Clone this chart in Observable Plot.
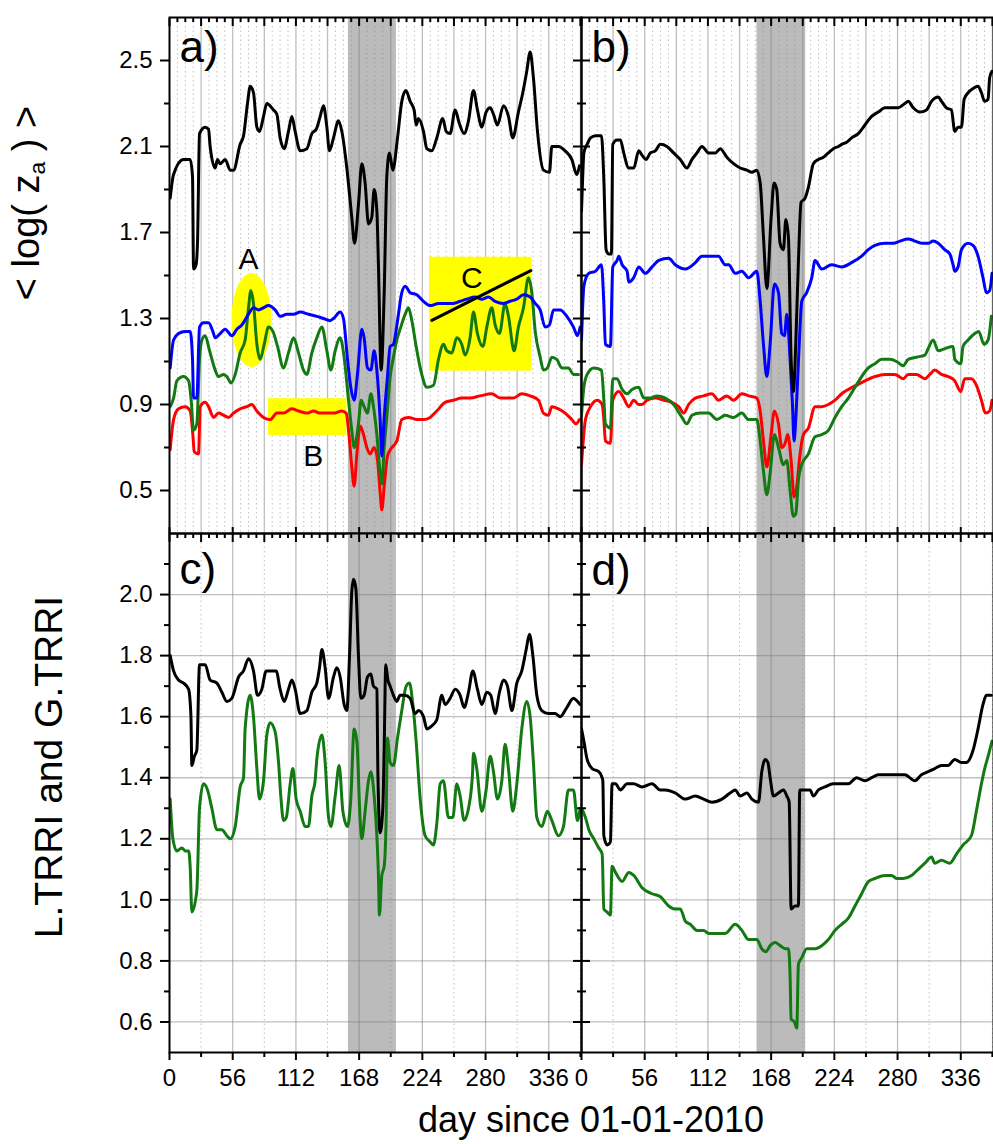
<!DOCTYPE html>
<html><head><meta charset="utf-8">
<script src="https://cdn.jsdelivr.net/npm/d3@7"></script>
<script src="https://cdn.jsdelivr.net/npm/@observablehq/plot@0.6"></script>
<style>
body{margin:0;background:#fff;font-family:"Liberation Sans",Arial,sans-serif;}
#wrap{position:relative;width:993px;height:1144px;overflow:hidden;background:#fff;}
.panel{position:absolute;}
.title{position:absolute;white-space:nowrap;color:#000;font-family:"Liberation Sans",Arial,sans-serif;}
</style></head><body><div id="wrap"></div>
<script>
// ---------------- axes / ticks ----------------
const X_DOMAIN = [0, 365];
const Y_TOP = [0.3, 2.7];
const Y_BOT = [0.5, 2.2];
const yTopMajor = [0.5, 0.9, 1.3, 1.7, 2.1, 2.5];
const yTopMinor = [0.7, 1.1, 1.5, 1.9, 2.3];
const yBotMajor = [0.6, 0.8, 1.0, 1.2, 1.4, 1.6, 1.8, 2.0];
const yBotMinor = [0.7, 0.9, 1.1, 1.3, 1.5, 1.7, 1.9, 2.1];
const xLabelTicks = [0, 56, 112, 168, 224, 280, 336];
const xHalfTicks = [28, 84, 140, 196, 252, 308, 364];
const xTopMajor = [0, 28, 56, 84, 112, 140, 168, 196, 224, 252, 280, 308, 336, 364];
const xTopMinor = d3.range(7, 365, 7).filter(d => d % 28 !== 0);
const bandAC = [158.5, 201];
const bandBD = [155.5, 198.6];
const panelLabels = ["a)", "b)", "c)", "d)"];

// ---------------- annotations (panel a) ----------------
const annoEllipse = [{day0: 55.3, day1: 90.7, v0: 1.072, v1: 1.509}];
const annoRects = [{day0: 87.8, day1: 157.2, v0: 0.756, v1: 0.927}, {day0: 230.3, day1: 321, v0: 1.055, v1: 1.585}];
const annoLine = [[232.4, 1.291], [320.1, 1.523]];
const annoText = [{t: "A", day: 70, v: 1.574}, {t: "B", day: 127.3, v: 0.659}, {t: "C", day: 267.8, v: 1.488}];

// ---------------- series: [day, value] ----------------
const aBlack = [[0.6,1.86],[3.6,1.97],[12.4,2.04],[18.3,2.04],[20.4,1.96],[21.3,1.53],[23.5,1.55],[24.8,1.65],[26.6,2.16],[31.6,2.19],[34.6,2.18],[36,2.1],[40.5,2.0],[42.5,2.04],[44.9,2.02],[49.3,2.04],[53.8,1.99],[56.7,1.99],[62.6,2.11],[65.6,2.15],[69.1,2.30],[71.5,2.38],[74.4,2.35],[77.4,2.19],[79.7,2.17],[83.3,2.24],[86.2,2.30],[92.1,2.27],[95.1,2.25],[98,2.14],[101.6,2.09],[105.4,2.17],[108.4,2.24],[111.3,2.17],[115.8,2.08],[121.7,2.09],[126.1,2.16],[130,2.18],[133.5,2.24],[136.4,2.29],[139.4,2.19],[141.7,2.08],[145.3,2.14],[149.7,2.22],[152.7,2.17],[157.1,2.0],[161.5,1.77],[163.9,1.65],[167.4,1.83],[170.4,2.02],[173.3,1.93],[176.3,1.74],[179.2,1.77],[181.3,1.90],[183.7,1.80],[185.1,1.55],[187.5,1.06],[190.2,1.42],[192.5,1.96],[194.9,2.07],[197.8,1.99],[202,2.14],[205.8,2.31],[209.4,2.36],[213.2,2.31],[216.7,2.27],[218.5,2.20],[220.6,2.23],[225,2.17],[228,2.09],[232.4,2.08],[236.8,2.14],[242.1,2.23],[245.1,2.17],[248.6,2.16],[253.1,2.27],[256.6,2.21],[261,2.16],[264.9,2.22],[269.3,2.36],[272.8,2.27],[276.7,2.19],[280.5,2.26],[284.1,2.28],[287,2.25],[290.5,2.20],[295.9,2.29],[300.3,2.24],[304.1,2.14],[309.1,2.26],[313,2.35],[316.5,2.45],[319.5,2.54],[322.4,2.42],[326,2.17],[331.3,1.99],[336.6,1.98],[338.7,2.10],[344.6,2.10],[350.5,2.08],[356.4,2.04],[360.8,1.97],[363.2,2.01]];
const aBlue = [[0.6,1.07],[3.6,1.20],[8,1.23],[13.9,1.24],[18.3,1.24],[20.4,1.11],[21.3,0.93],[24.2,0.93],[26.6,1.26],[30.1,1.28],[34.6,1.28],[38.4,1.24],[40.5,1.21],[44.9,1.23],[49.3,1.25],[55.2,1.22],[59.7,1.25],[64.1,1.27],[70,1.32],[74.4,1.35],[78.9,1.34],[83.3,1.35],[87.7,1.36],[93.6,1.34],[98,1.31],[104,1.32],[109.9,1.32],[115.8,1.33],[123.1,1.32],[130.5,1.31],[136.4,1.30],[142.3,1.29],[145.3,1.30],[151.2,1.33],[154.1,1.30],[157.7,1.11],[160.6,0.98],[163.6,0.92],[166.5,1.04],[170.4,1.25],[172.4,1.21],[175.4,1.07],[178.4,1.06],[181.3,1.15],[183.7,1.06],[186.6,0.83],[188.1,0.66],[190.2,0.84],[193.1,1.03],[195.5,1.17],[198.4,1.18],[202,1.29],[205.8,1.42],[208.8,1.45],[213.2,1.42],[219.1,1.41],[225,1.38],[230.9,1.36],[238.3,1.37],[245.7,1.37],[251.6,1.37],[257.5,1.38],[263.4,1.39],[270.8,1.40],[276.7,1.39],[282.6,1.40],[288.5,1.38],[295.9,1.37],[301.8,1.38],[307.7,1.39],[313.6,1.41],[319.5,1.40],[324,1.37],[328.4,1.34],[332.8,1.26],[336.6,1.27],[340.2,1.34],[346.1,1.34],[352,1.31],[357.9,1.26],[361.4,1.22],[363.8,1.26]];
const aGreen = [[0.6,0.89],[3.6,0.93],[6.5,1.01],[12.4,1.03],[16.9,1.01],[19.2,0.92],[21.3,0.78],[24.2,0.81],[26.6,1.11],[28.7,1.20],[31.6,1.22],[35.5,1.15],[40.5,1.06],[43.4,1.03],[47.9,1.04],[50.8,1.03],[54.6,1.00],[58.2,1.04],[62.6,1.14],[67,1.20],[70,1.35],[72.1,1.43],[74.4,1.37],[77.4,1.18],[80.3,1.11],[83.9,1.18],[87.7,1.26],[91.6,1.24],[95.7,1.17],[101,1.07],[105.4,1.14],[109.9,1.21],[114.3,1.14],[118.7,1.06],[121.7,1.04],[126.1,1.14],[130.5,1.21],[135,1.26],[139.4,1.15],[142.9,1.06],[146.8,1.15],[151.2,1.21],[154.7,1.12],[158.6,0.92],[161.5,0.78],[163.6,0.70],[167.4,0.81],[169.8,0.92],[172.4,0.89],[175.4,0.86],[178.4,0.95],[180.7,0.89],[183.7,0.76],[186.6,0.58],[188.1,0.53],[190.2,0.70],[192.5,0.84],[195.5,1.03],[198.4,1.12],[201.4,1.20],[204.9,1.26],[208.8,1.32],[211.7,1.35],[214.7,1.29],[218.5,1.17],[223.5,1.04],[228,0.98],[233.9,0.99],[238.3,1.11],[242.7,1.18],[245.7,1.15],[250.1,1.14],[254.5,1.21],[258.9,1.18],[261.9,1.13],[266.3,1.21],[269.3,1.33],[272.8,1.23],[277.6,1.17],[281.1,1.26],[285.5,1.35],[288.5,1.27],[292.3,1.23],[297.3,1.37],[300.3,1.31],[305.3,1.15],[309.1,1.26],[313.6,1.35],[318,1.49],[321,1.42],[324,1.24],[328.4,1.12],[331.3,1.06],[334.8,1.07],[338.7,1.12],[343.1,1.11],[347.5,1.07],[353.4,1.07],[357.9,1.04],[362.3,1.04]];
const aRed = [[0.6,0.69],[3.6,0.83],[8,0.88],[13.9,0.89],[18.3,0.87],[20.7,0.76],[21.9,0.68],[25.7,0.67],[27.2,0.89],[31.6,0.91],[34.6,0.89],[39,0.84],[43.4,0.86],[47.9,0.85],[52.3,0.84],[56.7,0.86],[62.6,0.88],[68.5,0.89],[72.9,0.90],[77.4,0.87],[83.3,0.84],[89.2,0.83],[95.1,0.86],[101,0.86],[108.4,0.88],[114.3,0.87],[121.7,0.86],[127.6,0.87],[133.5,0.86],[139.4,0.86],[145.3,0.86],[152.7,0.87],[156.5,0.86],[159.5,0.73],[161.5,0.61],[163.6,0.52],[166,0.67],[168.9,0.80],[171.9,0.76],[174.8,0.70],[177.8,0.67],[181.3,0.70],[184.3,0.64],[186.6,0.49],[188.1,0.41],[190.2,0.52],[193.1,0.66],[197,0.70],[201.4,0.73],[205.8,0.83],[211.7,0.84],[219.1,0.83],[225,0.83],[230.9,0.84],[236.8,0.87],[244.2,0.91],[251.6,0.92],[259,0.93],[266.4,0.93],[275.2,0.94],[285.5,0.95],[293,0.93],[298.8,0.93],[304.7,0.93],[312.1,0.95],[319.5,0.94],[326.9,0.92],[331.3,0.86],[335.7,0.85],[338.7,0.89],[344.6,0.88],[350.5,0.86],[356.4,0.83],[360.2,0.81],[363.2,0.83]];

const bBlack = [[0,1.80],[1,1.95],[2.1,2.07],[5,2.11],[8,2.14],[12.4,2.15],[17.7,2.15],[19.7,1.96],[21.8,1.62],[24.2,1.60],[26.5,1.60],[27.7,2.11],[31.5,2.13],[34.5,2.13],[37.4,2.07],[41.9,2.00],[46.3,2.00],[50.7,2.08],[53.6,2.06],[57.2,2.04],[61,2.07],[65.4,2.08],[69.9,2.11],[75.7,2.10],[81.6,2.07],[87.5,2.04],[93.4,2.00],[97.9,2.04],[102.3,2.07],[106.7,2.10],[112.6,2.07],[118.5,2.07],[122.9,2.09],[128.8,2.05],[134.7,2.02],[140.6,2.00],[146.5,1.99],[150.9,1.98],[155.3,1.99],[158.3,1.93],[161.2,1.68],[164.2,1.44],[168,1.77],[170.6,1.93],[173,1.90],[175.9,1.65],[178.9,1.62],[181,1.76],[183.3,1.68],[185.7,1.11],[187.7,0.96],[189.8,1.18],[192.2,1.57],[194.5,1.84],[198.1,1.86],[201,1.91],[205.4,2.02],[209.9,2.04],[214.3,2.05],[218.7,2.07],[223.1,2.09],[227.5,2.10],[230.5,2.11],[234.9,2.12],[239.3,2.14],[245.2,2.16],[251.1,2.20],[257,2.24],[262.9,2.26],[268.8,2.28],[274.7,2.28],[280.6,2.28],[286.5,2.30],[289.4,2.31],[293.9,2.28],[299.8,2.26],[305.6,2.27],[310.1,2.31],[316,2.33],[319,2.31],[323.3,2.28],[327.7,2.27],[330.7,2.17],[333.6,2.19],[336.6,2.19],[339,2.32],[342.5,2.35],[346.9,2.37],[351.3,2.38],[354.3,2.35],[357.2,2.31],[360.2,2.32],[361.6,2.42],[363.7,2.45]];
const bBlue = [[0,1.20],[1,1.35],[2.1,1.45],[6.5,1.51],[12.4,1.52],[17.7,1.55],[19.7,1.38],[21.2,1.18],[25.6,1.17],[27.7,1.54],[31.5,1.57],[33,1.59],[36,1.55],[40.4,1.52],[41.9,1.47],[46.3,1.49],[50.7,1.54],[56.6,1.51],[62.5,1.54],[68.4,1.57],[77.2,1.58],[83.1,1.55],[92,1.53],[100.8,1.56],[106.7,1.59],[112.6,1.59],[121.4,1.59],[127.3,1.55],[130.3,1.55],[136.2,1.51],[142.1,1.52],[148,1.49],[155.3,1.52],[158.3,1.38],[161.2,1.18],[164.2,1.03],[167.1,1.18],[170.9,1.46],[174.5,1.42],[177.4,1.23],[179.8,1.22],[181.9,1.32],[184.8,1.11],[186.9,0.90],[188.3,0.73],[189.8,0.83],[191.6,1.03],[193.6,1.26],[195.1,1.38],[199.5,1.42],[204,1.49],[206.9,1.57],[212.8,1.53],[221.6,1.55],[230.5,1.54],[239.3,1.56],[248.2,1.59],[254.1,1.62],[260,1.64],[268.8,1.65],[276.2,1.65],[282.1,1.66],[289.4,1.67],[295.3,1.66],[301.2,1.65],[307.1,1.65],[311.5,1.66],[316,1.65],[321.8,1.62],[326.3,1.60],[329.2,1.55],[330.7,1.52],[333.6,1.54],[336.6,1.62],[342.5,1.65],[346.9,1.64],[351.3,1.59],[355.7,1.49],[358.7,1.42],[361.6,1.43],[363.7,1.51]];
const bGreen = [[0,0.85],[2.1,0.98],[5,1.04],[10.9,1.07],[17.7,1.06],[19.8,0.92],[21.2,0.81],[25.6,0.79],[27.7,1.02],[31.5,1.02],[36,0.97],[40.4,0.95],[44.8,0.97],[50.7,0.98],[55.1,0.93],[61,0.93],[66.9,0.94],[74.3,0.93],[81.6,0.90],[89,0.84],[93.4,0.81],[97.9,0.85],[105.2,0.86],[112.6,0.86],[120,0.83],[127.3,0.85],[134.7,0.84],[142.1,0.86],[148,0.83],[155.3,0.83],[158.3,0.73],[161.2,0.59],[164.2,0.48],[167.1,0.58],[170.9,0.76],[174.5,0.70],[178.9,0.62],[181.9,0.64],[184.8,0.50],[187.7,0.38],[189.8,0.39],[192.2,0.55],[195.1,0.62],[201,0.67],[206.9,0.75],[212.8,0.76],[218.7,0.78],[224.6,0.84],[230.5,0.89],[236.4,0.93],[242.3,0.98],[248.2,1.03],[254.1,1.07],[260,1.09],[265.9,1.11],[273.2,1.11],[279.1,1.10],[285,1.08],[289.4,1.11],[296.8,1.12],[304.2,1.13],[307.1,1.16],[311.5,1.20],[316,1.15],[321.8,1.16],[329.2,1.17],[330.7,1.11],[336,1.09],[338,1.17],[342.5,1.20],[348.4,1.23],[351.9,1.24],[356.6,1.18],[360.2,1.20],[363.1,1.31]];
const bRed = [[0,0.62],[3.5,0.83],[8,0.89],[13.9,0.92],[18.3,0.90],[19.8,0.83],[21.2,0.73],[25.6,0.72],[27.7,0.92],[33,0.96],[37.4,0.93],[41.9,0.89],[46.3,0.92],[50.7,0.90],[53.6,0.90],[58.1,0.92],[65.4,0.93],[72.8,0.92],[80.2,0.91],[86.1,0.89],[90.5,0.86],[94.9,0.90],[100.8,0.93],[108.2,0.94],[115.5,0.95],[121.4,0.92],[128.8,0.94],[134.7,0.92],[142.1,0.95],[148,0.94],[155.3,0.93],[158.3,0.87],[161.2,0.73],[164.2,0.61],[168,0.76],[170.9,0.87],[174.5,0.81],[177.4,0.70],[180.4,0.72],[182.7,0.76],[185.7,0.64],[188.3,0.47],[190.7,0.52],[193.6,0.67],[196.6,0.76],[201,0.79],[206.9,0.89],[212.8,0.89],[218.7,0.90],[224.6,0.92],[230.5,0.95],[236.4,0.97],[243.7,0.99],[251.1,1.01],[260,1.03],[268.8,1.04],[277.6,1.04],[285,1.02],[289.4,1.04],[296.8,1.04],[304.2,1.02],[308.6,1.04],[313,1.06],[318.9,1.04],[324.8,1.03],[330.7,1.01],[336,0.96],[339.5,1.02],[345.4,1.02],[349.8,0.99],[354.3,0.92],[357.8,0.86],[361.6,0.87],[363.7,0.92]];

const cBlack = [[0.6,1.80],[3.6,1.75],[8,1.72],[12.4,1.71],[16.9,1.69],[19,1.60],[19.8,1.44],[22,1.47],[24.2,1.49],[26.6,1.77],[31.6,1.77],[36,1.72],[42,1.71],[46.4,1.68],[50.8,1.65],[55.2,1.66],[61.2,1.73],[65.6,1.75],[70,1.79],[74.4,1.75],[78,1.67],[81.8,1.69],[85.7,1.75],[90.7,1.75],[94.5,1.75],[98,1.69],[101.6,1.65],[105.4,1.69],[108.4,1.72],[111.3,1.69],[115.8,1.61],[121.7,1.62],[126.1,1.68],[130.5,1.71],[132.9,1.76],[135,1.82],[137.9,1.76],[140.9,1.66],[145.3,1.73],[148.2,1.76],[151.2,1.73],[154.7,1.64],[157.1,1.62],[159.5,1.80],[161.5,2.01],[163,2.05],[165.1,2.02],[167.4,1.80],[169.5,1.66],[172.4,1.67],[175.4,1.73],[178.4,1.74],[180.7,1.70],[183.7,1.69],[184.6,1.42],[186.6,1.22],[189,1.30],[190.2,1.50],[191.6,1.77],[193.5,1.72],[195.5,1.70],[198.4,1.67],[201.4,1.65],[204.3,1.67],[208.8,1.67],[213.2,1.66],[217.6,1.61],[220.6,1.62],[225,1.60],[228,1.56],[232.4,1.57],[236.8,1.59],[241.2,1.67],[244.2,1.64],[248.6,1.66],[253.1,1.69],[257.5,1.67],[261,1.63],[264.9,1.68],[268.7,1.75],[272.8,1.69],[276.7,1.64],[281.1,1.68],[284.6,1.67],[288.5,1.61],[292.3,1.68],[295.9,1.72],[299.4,1.70],[303.3,1.62],[307.7,1.71],[312.1,1.75],[316,1.82],[318.9,1.87],[321.9,1.80],[325.4,1.67],[329.8,1.62],[335.7,1.61],[341.6,1.61],[346.1,1.60],[352,1.63],[357.9,1.66],[361.4,1.65],[363.8,1.64]];
const cGreen = [[0.6,1.33],[3,1.20],[6.5,1.16],[11,1.17],[13.9,1.16],[16.9,1.16],[18.3,1.11],[19.8,0.96],[24.2,1.03],[26.6,1.30],[30.1,1.38],[33.7,1.36],[37.5,1.30],[42,1.23],[46.4,1.23],[50.8,1.21],[53.8,1.20],[58.2,1.24],[62.6,1.37],[65.6,1.40],[67,1.56],[71.5,1.67],[74.4,1.60],[77.4,1.43],[79.7,1.33],[83.3,1.39],[86.2,1.54],[89.2,1.58],[93.6,1.55],[96.6,1.45],[98.6,1.34],[101,1.26],[103.5,1.27],[106.9,1.38],[109.3,1.43],[112.2,1.33],[115.8,1.29],[120.2,1.24],[123.1,1.24],[126.1,1.34],[129,1.39],[130.5,1.46],[135,1.54],[137.9,1.45],[140.9,1.27],[143,1.24],[146.8,1.34],[150.3,1.44],[153.6,1.29],[157.7,1.24],[160.6,1.33],[163.6,1.56],[166,1.52],[168.9,1.26],[170.4,1.20],[173.3,1.29],[176.3,1.39],[178.4,1.42],[181.3,1.34],[183.7,1.21],[185.1,1.08],[186,0.95],[188.1,1.08],[190.2,1.11],[191.9,1.26],[193.1,1.53],[195.5,1.45],[198.4,1.44],[202,1.53],[205.8,1.62],[209.7,1.70],[212.6,1.71],[215.6,1.64],[218.5,1.52],[222.1,1.33],[226.5,1.21],[230.9,1.19],[233.9,1.18],[236.8,1.25],[239.8,1.38],[242.7,1.39],[247.1,1.27],[251,1.27],[254.5,1.38],[257.5,1.34],[261,1.26],[264.9,1.30],[268.4,1.41],[269.3,1.48],[272.2,1.43],[276.7,1.29],[280.5,1.36],[284.1,1.47],[287,1.42],[290.5,1.33],[294.4,1.39],[297.3,1.51],[300.3,1.43],[304.1,1.29],[307.7,1.38],[312.1,1.56],[316.5,1.65],[319.5,1.60],[322.4,1.45],[325.4,1.27],[329.8,1.24],[334.8,1.29],[338.7,1.26],[344.6,1.21],[349,1.24],[353.4,1.36],[357.9,1.36],[361.4,1.26],[363.8,1.30]];

const dBlack = [[0,1.56],[2.1,1.52],[5,1.46],[9.4,1.43],[15.3,1.42],[18.3,1.40],[18.9,1.39],[19.8,1.21],[22.7,1.18],[25.6,1.19],[27.1,1.38],[30.1,1.38],[34.5,1.36],[40.4,1.38],[46.3,1.38],[53.6,1.37],[62.5,1.38],[69.9,1.36],[74.3,1.36],[83.1,1.35],[92,1.33],[100.8,1.34],[108.2,1.33],[115.5,1.32],[124.4,1.33],[131.7,1.35],[136.2,1.36],[140.6,1.34],[146.5,1.35],[150.9,1.33],[156.8,1.32],[159.7,1.42],[162.7,1.46],[165.1,1.45],[167.1,1.40],[170.1,1.34],[174.5,1.35],[178.9,1.36],[181.9,1.34],[184,1.32],[185.7,0.97],[189.2,0.98],[192.2,0.98],[193.3,1.36],[198.1,1.36],[202.5,1.36],[205.4,1.34],[209.9,1.36],[215.7,1.37],[223.1,1.38],[230.5,1.38],[236.4,1.38],[243.7,1.40],[251.1,1.39],[257,1.40],[262.9,1.41],[271.7,1.41],[279.1,1.41],[286.5,1.41],[295.3,1.39],[301.2,1.41],[307.1,1.42],[313,1.43],[318.9,1.44],[324.8,1.44],[330.7,1.46],[336.6,1.45],[341,1.45],[346.9,1.49],[351.3,1.56],[355.7,1.64],[358.7,1.67],[363.1,1.67]];
const dGreen = [[0,1.30],[3.5,1.27],[6.5,1.23],[10.9,1.20],[15.3,1.17],[18.3,1.15],[19.8,0.97],[22.7,0.96],[25.6,0.95],[27.1,1.11],[30.1,1.09],[36,1.06],[41.9,1.09],[46.3,1.08],[53.6,1.04],[62.5,1.02],[69.9,1.01],[77.2,0.98],[83.1,0.97],[87.5,0.97],[92,0.93],[96.4,0.92],[102.3,0.90],[108.2,0.90],[112.6,0.89],[120,0.89],[127.3,0.89],[136.2,0.92],[142.1,0.90],[148,0.87],[155.3,0.87],[159.7,0.84],[163.3,0.83],[167.1,0.85],[171.5,0.86],[176,0.85],[180.4,0.84],[183.3,0.84],[184.8,0.75],[185.7,0.61],[188.6,0.60],[190.7,0.58],[192.2,0.79],[195.1,0.81],[199.5,0.84],[206.9,0.84],[212.8,0.85],[218.7,0.87],[224.6,0.90],[230.5,0.92],[236.4,0.94],[242.3,0.98],[248.2,1.02],[254.1,1.06],[260,1.07],[268.8,1.08],[274.7,1.08],[279.1,1.07],[285,1.07],[292.4,1.08],[298.3,1.10],[304.2,1.12],[310.1,1.14],[313,1.12],[318.9,1.13],[326.3,1.12],[332.2,1.15],[338.1,1.18],[345.4,1.21],[349.8,1.29],[354.3,1.38],[357.2,1.43],[360.2,1.47],[363.7,1.52]];

const COLORS = {black: "#000000", blue: "#0000ff", green: "#137a13", red: "#ff0000"};
const TICK_FONT = 24;

// ---------------- panel builder ----------------
function makePanel(cfg) {
  const {series, band, yDomain, yMajor, yMinor, left, bottom, label, extra = [], labelDy,
         width, height, mL, mR, mT, mB} = cfg;
  const gridSolid = bottom ? xLabelTicks.slice(1) : xTopMajor.slice(1);
  const gridDot = bottom ? xHalfTicks : xTopMinor;
  const tk = {strokeWidth: 2, label: null, tickFormat: () => ""};
  const axes = [];
  if (left) {
    axes.push(Plot.axisY({anchor: "left", ticks: yMajor, tickSize: 9, ...tk}));
    axes.push(Plot.axisY({anchor: "left", ticks: yMinor, tickSize: 5, ...tk}));
    axes.push(Plot.axisY({anchor: "right", ticks: yMajor, tickSize: 9, dx: -9, ...tk}));
    axes.push(Plot.axisY({anchor: "right", ticks: yMinor, tickSize: 5, dx: -5, ...tk}));
    axes.push(Plot.text(yMajor, {y: d => d, frameAnchor: "left", text: d => d3.format(".1f")(d),
                                 textAnchor: "end", dx: -17, fontSize: TICK_FONT, fill: "black"}));
  } else {
    axes.push(Plot.axisY({anchor: "left", ticks: yMajor, tickSize: 9, dx: 9, ...tk}));
    axes.push(Plot.axisY({anchor: "left", ticks: yMinor, tickSize: 5, dx: 5, ...tk}));
  }
  axes.push(Plot.axisX({anchor: "top", ticks: xTopMajor, tickSize: 8, dy: 8, ...tk}));
  axes.push(Plot.axisX({anchor: "top", ticks: xTopMinor, tickSize: 4, dy: 4, ...tk}));
  if (bottom) {
    axes.push(Plot.axisX({anchor: "bottom", ticks: xLabelTicks, tickSize: 8, ...tk}));
    axes.push(Plot.axisX({anchor: "bottom", ticks: xHalfTicks, tickSize: 5, ...tk}));
    axes.push(Plot.text(xLabelTicks, {x: d => d, frameAnchor: "bottom", text: d => String(d),
                                      lineAnchor: "top", dy: 16, fontSize: TICK_FONT, fill: "black"}));
  } else {
    axes.push(Plot.axisX({anchor: "bottom", ticks: xLabelTicks, tickSize: 6, dy: -6, ...tk}));
  }
  return Plot.plot({
    width, height, marginLeft: mL, marginRight: mR, marginTop: mT, marginBottom: mB,
    x: {domain: X_DOMAIN},
    y: {domain: yDomain},
    style: {background: "none", overflow: "visible", color: "black",
            fontFamily: "'Liberation Sans', Arial, sans-serif"},
    marks: [
      Plot.rect([band], {x1: d => d[0], x2: d => d[1], fill: "#bbbbbb"}),
      Plot.ruleX(gridDot, {stroke: "#8a8a8a", strokeOpacity: 0.55, strokeWidth: 1, strokeDasharray: "1.5,3"}),
      Plot.ruleX(gridSolid, {stroke: "#808080", strokeOpacity: 0.5, strokeWidth: 1.3}),
      bottom ? Plot.ruleY(yMajor, {stroke: "#808080", strokeOpacity: 0.5, strokeWidth: 1.3}) : null,
      ...extra,
      ...series.map(s => Plot.line(s.data, {x: d => d[0], y: d => d[1], stroke: COLORS[s.color],
                                           strokeWidth: 3, curve: "monotone-x", clip: true})),
      Plot.text([label], {text: d => d, frameAnchor: "top-left", textAnchor: "start", lineAnchor: "top",
                          dx: 10, dy: labelDy, fontSize: 44, fill: "black"}),
      Plot.frame({stroke: "black", strokeWidth: 2}),
      ...axes
    ]
  });
}

const annoMarks = [
  Plot.rect(annoRects, {x1: "day0", x2: "day1", y1: "v0", y2: "v1", fill: "#ffff00"}),
  (index, scales) => {
    const sx = scales.x, sy = scales.y;
    const g = d3.create("svg:g");
    annoEllipse.forEach(e => {
      g.append("ellipse")
        .attr("cx", (sx(e.day0) + sx(e.day1)) / 2)
        .attr("cy", (sy(e.v0) + sy(e.v1)) / 2)
        .attr("rx", Math.abs(sx(e.day1) - sx(e.day0)) / 2)
        .attr("ry", Math.abs(sy(e.v0) - sy(e.v1)) / 2)
        .attr("fill", "#ffff00");
    });
    return g.node();
  }
];
const annoOver = [
  Plot.line(annoLine, {x: d => d[0], y: d => d[1], stroke: "black", strokeWidth: 3}),
  Plot.text(annoText, {x: "day", y: "v", text: "t", fontSize: 30, fill: "black"})
];

const wrap = document.getElementById("wrap");
function place(svg, left, top) {
  const div = document.createElement("div");
  div.className = "panel";
  div.style.left = left + "px";
  div.style.top = top + "px";
  div.appendChild(svg);
  wrap.appendChild(div);
}

const topGeom = {height: 540, mT: 17, mB: 7};
const botGeom = {height: 560, mT: 7, mB: 34};
const leftGeom = {width: 585, mL: 169, mR: 4};
const rightGeom = {width: 418, mL: 6, mR: 0};

place(makePanel({
  series: [{data: aRed, color: "red"}, {data: aGreen, color: "green"}, {data: aBlue, color: "blue"}, {data: aBlack, color: "black"}],
  band: bandAC, yDomain: Y_TOP, yMajor: yTopMajor, yMinor: yTopMinor, left: true, bottom: false,
  label: panelLabels[0], labelDy: 13, extra: annoMarks, ...topGeom, ...leftGeom
}), 0, 0);
place(Plot.plot({
  width: 585, height: 540, marginLeft: 169, marginRight: 4, marginTop: 17, marginBottom: 7,
  x: {domain: X_DOMAIN, axis: null}, y: {domain: Y_TOP, axis: null},
  style: {background: "none", overflow: "visible", fontFamily: "'Liberation Sans', Arial, sans-serif"},
  marks: annoOver
}), 0, 0);

place(makePanel({
  series: [{data: bRed, color: "red"}, {data: bGreen, color: "green"}, {data: bBlue, color: "blue"}, {data: bBlack, color: "black"}],
  band: bandBD, yDomain: Y_TOP, yMajor: yTopMajor, yMinor: yTopMinor, left: false, bottom: false,
  label: panelLabels[1], labelDy: 13, ...topGeom, ...rightGeom
}), 575, 0);

place(makePanel({
  series: [{data: cGreen, color: "green"}, {data: cBlack, color: "black"}],
  band: bandAC, yDomain: Y_BOT, yMajor: yBotMajor, yMinor: yBotMinor, left: true, bottom: true,
  label: panelLabels[2], labelDy: 19, ...botGeom, ...leftGeom
}), 0, 526);

place(makePanel({
  series: [{data: dGreen, color: "green"}, {data: dBlack, color: "black"}],
  band: bandBD, yDomain: Y_BOT, yMajor: yBotMajor, yMinor: yBotMinor, left: false, bottom: true,
  label: panelLabels[3], labelDy: 20, ...botGeom, ...rightGeom
}), 575, 526);

function title(html, x, y, size, rotate) {
  const d = document.createElement("div");
  d.className = "title";
  d.innerHTML = html;
  d.style.left = x + "px";
  d.style.top = y + "px";
  d.style.fontSize = size + "px";
  d.style.transform = "translate(-50%,-50%)" + (rotate ? " rotate(-90deg)" : "");
  wrap.appendChild(d);
}
title("&lt; log( z<sub style=\"font-size:0.6em;vertical-align:-0.3em\">a</sub> ) &gt;", 28, 203, 38, true);
title("L.TRRI and G.TRRI", 49, 767, 39, true);
title("day since 01-01-2010", 591, 1120, 36, false);
</script></body></html>
